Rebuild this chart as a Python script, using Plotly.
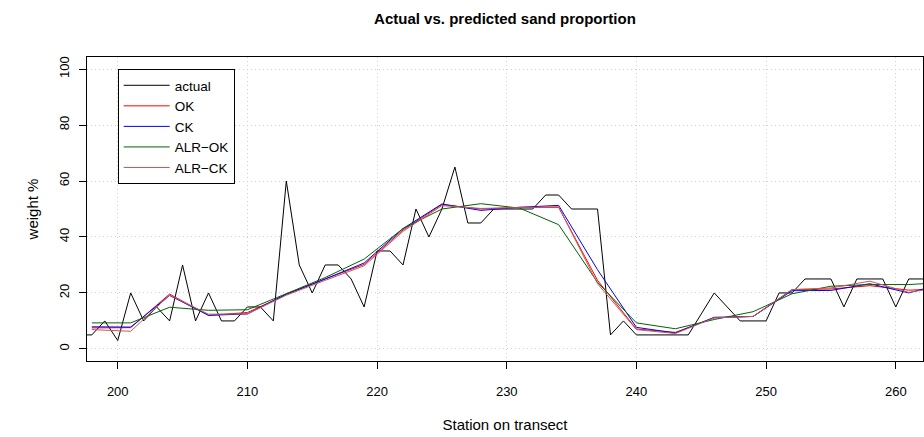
import plotly.graph_objects as go

# ---- data ----
stations_actual = list(range(197, 264))
actual = [5, 5, 10, 3, 20, 10, 15, 10, 30, 10, 20, 10, 10, 15, 15, 10, 60, 30, 20, 30,
          30, 25, 15, 35, 35, 30, 50, 40, 50, 65, 45, 45, 50, 50, 50, 50, 55, 55, 50, 50,
          50, 5, 10, 5, 5, 5, 5, 5, 12.5, 20, 15, 10, 10, 10, 20, 20, 25, 25, 25, 15,
          25, 25, 25, 15, 25, 25, 25]

stations_pred = [198, 201, 204, 207, 210, 213, 216, 219, 222, 225, 228, 231, 234, 237,
                 240, 243, 246, 249, 252, 255, 258, 261, 264]
ok = [7.5, 7.6, 19.6, 12.0, 13.0, 19.4, 25.0, 30.2, 42.5, 51.6, 50.0, 50.6, 50.6, 24.5,
      7.1, 5.9, 11.1, 11.6, 21.2, 21.4, 22.6, 21.0, 21.5]
ck = [7.9, 7.8, 19.1, 12.0, 12.5, 19.6, 25.0, 30.7, 43.0, 51.8, 49.5, 50.6, 51.3, 28.3,
      7.7, 5.7, 11.3, 11.6, 20.8, 20.9, 23.3, 20.0, 23.8]
alr_ok = [9.3, 9.3, 14.9, 13.8, 14.0, 19.8, 25.5, 32.1, 43.0, 50.0, 51.9, 50.3, 44.4, 23.8,
          9.3, 7.2, 10.5, 13.3, 19.7, 22.4, 23.0, 23.0, 23.8]
alr_ck = [6.9, 6.3, 19.2, 12.4, 12.5, 19.2, 24.5, 29.7, 42.0, 51.2, 50.2, 50.6, 50.8, 23.3,
          6.9, 5.5, 11.1, 11.6, 21.2, 21.8, 24.2, 20.2, 22.5]

x_ticks = [200, 210, 220, 230, 240, 250, 260]
y_ticks = [0, 20, 40, 60, 80, 100]

FONT = "Liberation Sans, Arial, Helvetica, sans-serif"

fig = go.Figure()
fig.add_trace(go.Scatter(x=stations_actual, y=actual, mode="lines", name="actual",
                         line=dict(color="black", width=1)))
fig.add_trace(go.Scatter(x=stations_pred, y=ok, mode="lines", name="OK",
                         line=dict(color="red", width=1)))
fig.add_trace(go.Scatter(x=stations_pred, y=ck, mode="lines", name="CK",
                         line=dict(color="blue", width=1)))
fig.add_trace(go.Scatter(x=stations_pred, y=alr_ok, mode="lines", name="ALR−OK",
                         line=dict(color="#006400", width=1)))
fig.add_trace(go.Scatter(x=stations_pred, y=alr_ck, mode="lines", name="ALR−CK",
                         line=dict(color="#c05a5a", width=1)))

grid = dict(showgrid=True, gridcolor="#cfcfcf", griddash="1px,3px", gridwidth=1,
            showline=True, mirror=True, linecolor="black", linewidth=1,
            ticks="outside", ticklen=7, tickcolor="black", zeroline=False,
            tickfont=dict(size=13))

fig.update_layout(
    width=924, height=437,
    margin=dict(l=87, r=1, t=57, b=76),
    paper_bgcolor="white", plot_bgcolor="white",
    font=dict(family=FONT, size=12.5, color="black"),
    title=dict(text="<b>Actual vs. predicted sand proportion</b>", x=0.5465, xanchor="center",
               y=0.958, yanchor="middle", font=dict(size=15)),
    showlegend=True,
    legend=dict(x=0.0367, y=0.9605, xanchor="left", yanchor="top",
                bordercolor="black", borderwidth=1, bgcolor="white",
                font=dict(size=13.5), tracegroupgap=0, itemwidth=46),
    xaxis=dict(range=[197.63, 262.1], tickvals=x_ticks, ticklabelstandoff=11,
               title=dict(text="Station on transect", standoff=21), **grid),
    yaxis=dict(range=[-4.32, 104.32], tickvals=y_ticks, tickangle=-90,
               ticklabelstandoff=5,
               title=dict(text="weight %", standoff=14), **grid),
)

fig.write_html("out.html")
